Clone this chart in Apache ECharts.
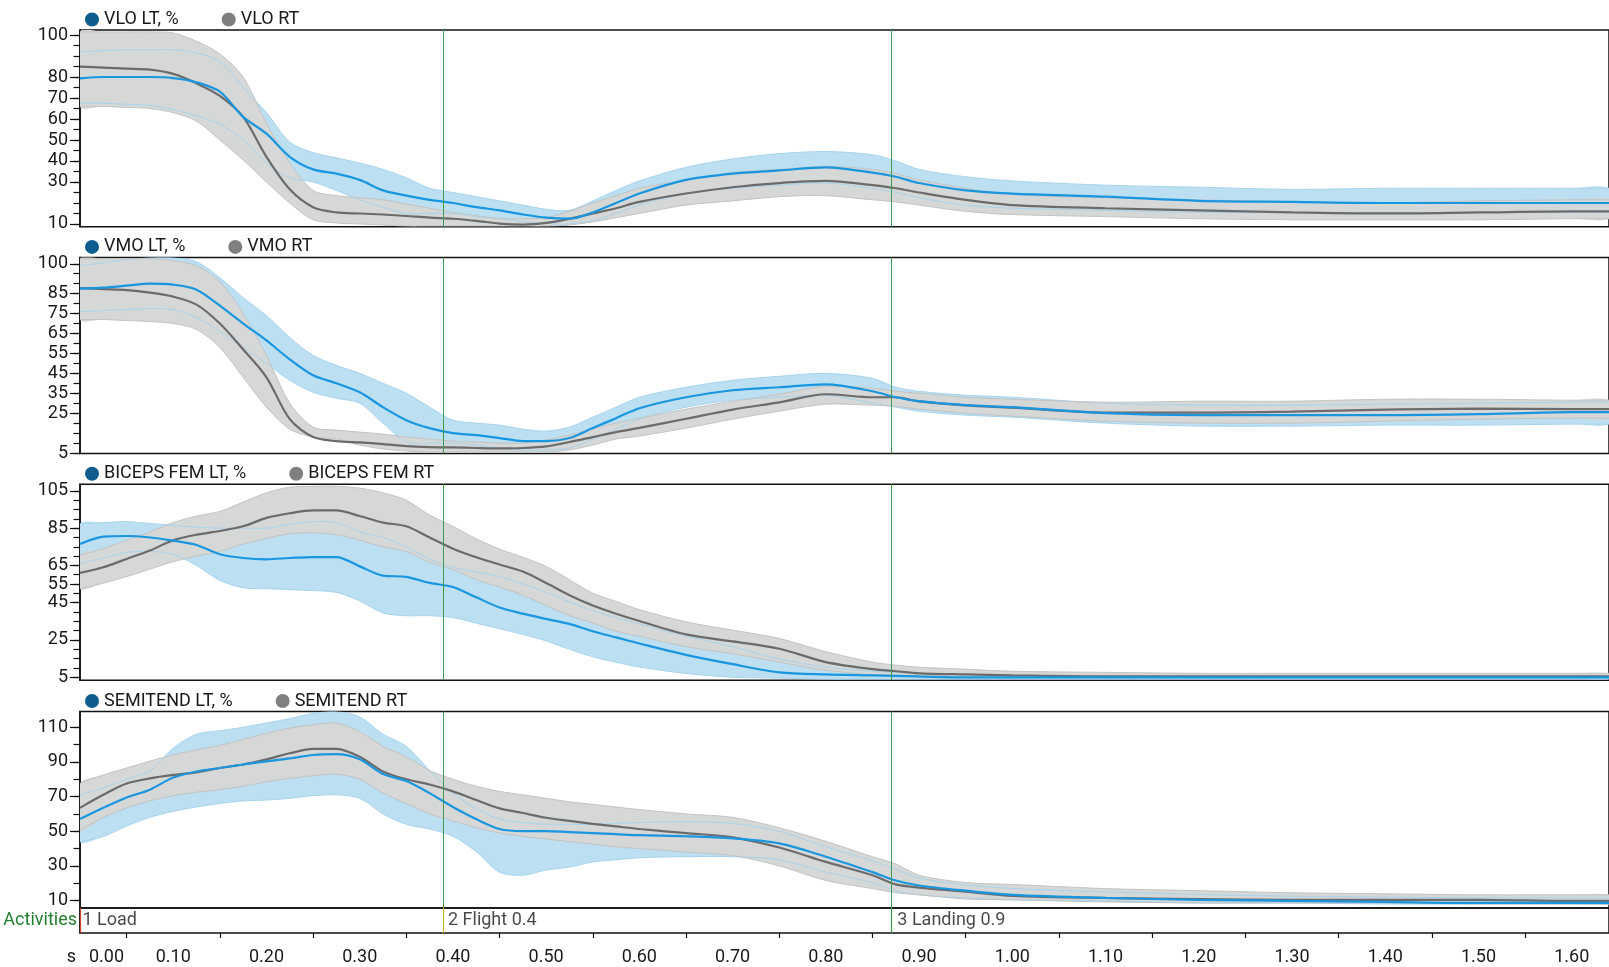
<!DOCTYPE html>
<html>
<head>
<meta charset="utf-8">
<script src="https://cdn.jsdelivr.net/npm/echarts@6/dist/echarts.min.js"></script>
<style>
  html, body { margin: 0; padding: 0; background: #fff; }
  #main { width: 1609px; height: 967px; }
</style>
</head>
<body>
<div id="main"></div>
<script>
// time base (s), shared by all four muscles
var timeS = [0, 0.025, 0.05, 0.075, 0.1, 0.125, 0.15, 0.175, 0.2, 0.225, 0.25, 0.275, 0.3, 0.325, 0.35, 0.375, 0.4, 0.425, 0.45, 0.475, 0.5, 0.525, 0.55, 0.575, 0.6, 0.65, 0.7, 0.75, 0.8, 0.85, 0.875, 0.9, 0.95, 1.0, 1.1, 1.2, 1.3, 1.4, 1.5, 1.6, 1.64];

// VLO
var vloLtMean = [79.4, 80, 80, 80, 79.5, 77.5, 73, 61, 53, 42, 36, 34, 31, 26, 23.5, 21.5, 20, 18, 16.5, 14.5, 13, 12.5, 15.5, 20, 24.5, 31, 34, 35.5, 37, 34.5, 32.5, 29.5, 26, 24.5, 23, 21, 20.5, 20, 20, 20, 20];
var vloLtHigh = [92, 92.5, 93, 93, 93, 91.5, 87.5, 75, 63, 49, 44, 41.5, 39, 36, 32, 27, 25, 23, 21, 19, 17, 16.5, 21, 26, 30.5, 37, 41, 43.5, 44.5, 43, 40, 36, 32.5, 30.5, 28.5, 27.5, 26.5, 27, 27, 27, 27];
var vloLtLow = [67.5, 67.5, 67, 66.5, 64.5, 61.5, 57.5, 50, 39, 32, 30, 26, 21.5, 18, 15, 15, 15, 13.5, 12.5, 11, 10.2, 10, 11.5, 15, 19, 24.5, 27, 28.5, 29.5, 27, 25, 22.5, 19, 17.5, 16.5, 15.5, 15.5, 15.5, 15.5, 15.5, 15.5];
var vloRtMean = [85, 84.5, 84, 83.5, 81.5, 77, 71, 61, 42, 26.5, 18, 15.5, 15, 14.5, 13.8, 13, 12.5, 11.5, 10.2, 9.7, 10.5, 12.5, 15, 17.5, 20.5, 24.5, 27.5, 29.5, 30.5, 28.5, 27, 25, 21.5, 19, 17.5, 16.5, 15.5, 15, 15.5, 16, 16];
var vloRtHigh = [101.5, 101.5, 101.5, 101.5, 101, 97, 91, 80, 58, 39, 26, 23.5, 22.5, 21.5, 19.5, 17.5, 15.5, 14, 12.6, 12.5, 13, 16, 20, 23.5, 27, 31, 34.5, 36, 37.5, 36, 34, 31, 27, 24, 22.5, 21.5, 20.5, 20, 21, 21.5, 21.5];
var vloRtLow = [66, 66, 65.5, 65, 63, 59, 50, 40.5, 30, 20, 12, 10.5, 10, 9.5, 9, 9, 9, 9, 9, 9, 9, 9.5, 11, 13, 15, 19, 21, 23, 23.5, 21.5, 20.5, 19, 16, 14.5, 13.5, 12.5, 12, 12, 12, 12.5, 12.5];

// VMO
var vmoLtMean = [87.5, 88, 89, 90, 89.5, 87, 79, 70, 61.5, 52, 44, 40, 35.5, 28, 21.5, 17.5, 15, 14, 12.5, 11, 11, 12.5, 17.5, 22.5, 27.5, 33, 36.5, 38, 39.5, 36, 33, 31, 29, 28, 25, 24, 24, 24, 24.5, 25.5, 25.5];
var vmoLtHigh = [99, 100.5, 102, 103, 103, 101, 93, 83, 74, 63, 54, 49, 45, 40, 35, 28, 21.5, 20, 19, 17, 16, 18, 23, 28, 33, 38, 41.5, 43.5, 45, 42.5, 38, 36, 34, 33, 30, 29, 29, 29.5, 30, 30.5, 30.5];
var vmoLtLow = [76, 76.5, 77, 77.5, 77, 73, 66, 58, 50, 41.5, 35.5, 32.5, 30, 20, 10.5, 10, 10, 9, 7.5, 6.5, 6.5, 7.5, 12, 17, 22, 28, 31.5, 33, 34, 30, 28, 26, 24, 23, 20, 18.5, 18.5, 19, 19, 19.5, 19.5];
var vmoRtMean = [87.8, 87.3, 86.8, 85.5, 83.5, 79.5, 70, 57, 43, 22, 13, 11, 10.3, 9.5, 8.5, 8, 7.8, 7.5, 7.3, 7.5, 8.3, 10.5, 13, 15.5, 17.6, 22.2, 26.8, 30.4, 34.5, 33, 33, 30.9, 28.9, 27.8, 25.3, 25.3, 25.8, 26.8, 27.3, 27, 27];
var vmoRtHigh = [102.5, 102.5, 102.5, 102.5, 101.5, 99, 91, 75, 54, 30, 18, 16.5, 15.5, 14.5, 13, 12, 11, 10.5, 10, 10, 11.5, 14, 17, 20, 22.5, 27, 31, 34.5, 38.5, 37.5, 36, 35, 33, 32, 30.5, 31, 31, 32, 32, 31.5, 31.5];
var vmoRtLow = [72, 72, 71.5, 71, 70, 67, 58, 43, 28, 17, 13, 12, 9, 7, 6, 5.5, 5.5, 5.5, 5.5, 5.5, 5.5, 6.5, 9, 12, 13.5, 17.5, 22, 26, 29.5, 29, 28.5, 27, 25, 23.5, 21, 20, 20, 21, 22, 22.5, 22.5];

// BICEPS FEM
var bicLtMean = [76.5, 80.5, 80.8, 80, 78.3, 76, 71, 69, 68.3, 69, 69.5, 69.5, 64.5, 59.5, 58.9, 55.6, 53.4, 47.9, 42.4, 39.1, 36.3, 33.6, 29.7, 26.4, 23.1, 17, 12, 7.6, 6.5, 6, 5.7, 5.4, 4.9, 4.9, 4.9, 4.9, 4.9, 4.9, 4.9, 4.9, 4.9];
var bicLtHigh = [87.3, 88, 88.5, 87.5, 86.5, 85.5, 85, 85, 85, 87, 88.5, 88, 83, 80, 75, 68.3, 64, 61.5, 59, 55, 50.6, 45.5, 40.7, 37, 33.6, 27, 21.4, 14.8, 10.4, 8.2, 7.6, 7.1, 6.5, 6, 5.7, 5.4, 5.4, 5.4, 5.4, 5.4, 5.4];
var bicLtLow = [66, 69, 72, 72.5, 71, 65, 57, 53, 52.5, 52, 51.5, 50.5, 46, 39.5, 38, 38, 37, 34, 31, 28, 24.5, 20, 16, 13, 10.5, 7, 5, 4.5, 4, 4, 4, 4, 4, 4, 4, 4, 4, 4, 4, 4, 4];
var bicRtMean = [61, 64, 68.5, 73, 78.5, 81.5, 83.5, 86, 90.5, 93, 94.5, 94.5, 91.5, 88, 86, 80, 74, 69.4, 65.5, 61.7, 55.6, 49, 43.5, 39.1, 35.2, 28, 24.2, 20.3, 13.1, 9.3, 8.2, 7.1, 6.5, 6, 5.4, 5.4, 5.4, 5.4, 5.4, 5.4, 5.4];
var bicRtHigh = [70.5, 74, 78.5, 83, 88, 91.5, 94, 99, 104, 107, 107.5, 107.5, 106.5, 104, 100, 92, 86, 79.3, 73.8, 69.4, 64.5, 57.3, 50.1, 45.7, 41.3, 34.7, 30.3, 25.8, 18.7, 13.1, 11.5, 10.4, 9.3, 8.2, 7.6, 7.1, 7.1, 7.1, 7.1, 7.1, 7.1];
var bicRtLow = [52.5, 55.5, 59, 63, 67, 70, 72.5, 76.5, 79.5, 82, 82.5, 81.5, 78.5, 75, 72.5, 66.6, 62.8, 57.3, 53.4, 49, 43.5, 38, 34.1, 29.7, 27, 21.4, 17.6, 13.1, 8.7, 6.5, 6, 5.4, 4.9, 4.9, 4.9, 4.9, 4.9, 4.9, 4.9, 4.9, 4.9];

// SEMITEND
var semLtMean = [57, 63.5, 69.5, 74, 81, 84.5, 86.5, 88.5, 90.3, 92, 94, 94.5, 91.5, 83, 79, 72, 64, 57, 51.3, 50.1, 50.1, 49.5, 48.9, 48.3, 47.7, 47.1, 45.9, 43, 35.3, 26.4, 21.6, 18.7, 15.7, 13.3, 11.5, 10.4, 9.8, 9.2, 8.6, 8.6, 8.6];
var semLtHigh = [71, 75, 80, 85, 98, 106, 108, 110, 112.5, 115, 118, 119, 116, 106, 99, 85, 72, 63, 57, 55, 54, 54, 54, 54.5, 55, 55.5, 54.5, 50, 41, 33, 28, 23, 19, 17, 15, 13.5, 12.5, 12, 11.5, 11.5, 11.5];
var semLtLow = [44, 47, 53, 58, 61.5, 64, 66, 67.5, 68, 69, 70.5, 71, 69, 60, 54, 51.3, 47.1, 38.2, 26.4, 24.6, 27.6, 29.3, 32.3, 33.5, 34.7, 35.3, 35.3, 33.5, 26.4, 20.4, 15.7, 13.3, 11.5, 10.4, 9.8, 8.6, 8.6, 8, 8, 8, 8];
var semRtMean = [63.5, 71, 77.5, 80.5, 82.5, 84, 86.5, 88.5, 91.5, 95, 97.5, 97.5, 93, 84.5, 80, 77, 73, 68, 63.2, 60.5, 57.8, 56, 54.3, 52.8, 51.3, 48.9, 46.5, 40.6, 32.3, 24.6, 19.3, 17.5, 15.1, 12.7, 11.5, 10.9, 10.4, 10.4, 10.4, 9.8, 9.8];
var semRtHigh = [77.5, 82.5, 86.5, 90.5, 94, 97, 99.5, 103, 106.5, 109.5, 111.5, 112.5, 107.5, 99, 93, 85, 80, 76, 73, 71, 69, 67, 65.5, 64, 62.5, 60, 58, 52, 44.2, 35.3, 31.1, 24.6, 20.4, 19.3, 16.9, 15.7, 14.5, 13.9, 13.3, 13.3, 13.3];
var semRtLow = [50.5, 58, 63.5, 67.5, 70.5, 72.5, 74, 76, 78.5, 80.5, 82, 83, 80, 72, 66, 60, 56, 52, 49, 47, 45.5, 44, 42.5, 41, 40, 38, 36, 30, 21.6, 16.9, 14.5, 13.3, 10.9, 10.4, 9.2, 8.6, 8.6, 8.6, 8, 8, 8];

// y tick labels and minor ticks
var vloLabels = [10, 30, 40, 50, 60, 70, 80, 100];
var vloTicks = [10, 15, 20, 25, 30, 35, 40, 45, 50, 55, 60, 65, 70, 75, 80, 85, 90, 95, 100];
var vmoLabels = [5, 25, 35, 45, 55, 65, 75, 85, 100];
var vmoTicks = [5, 10, 15, 20, 25, 30, 35, 40, 45, 50, 55, 60, 65, 70, 75, 80, 85, 90, 95, 100];
var bicLabels = [5, 25, 45, 55, 65, 85, 105];
var bicTicks = [5, 10, 15, 20, 25, 30, 35, 40, 45, 50, 55, 60, 65, 70, 75, 80, 85, 90, 95, 100, 105];
var semLabels = [10, 30, 50, 70, 90, 110];
var semTicks = [10, 20, 30, 40, 50, 60, 70, 80, 90, 100, 110];

// phases
var phaseLines = [0.3905, 0.8735];
var activityNames = ['1 Load', '2 Flight 0.4', '3 Landing 0.9'];
var activityStart = [0, 0.392, 0.874];
var activityColors = ['#d2432c', '#c9b227', '#3f9a52'];

var font = 'Roboto';
var ink = '#1a1a1a';
var fs = 18;

var panels = [
  { lt: 'VLO LT, %', rt: 'VLO RT', m: [vloLtMean, vloLtHigh, vloLtLow, vloRtMean, vloRtHigh, vloRtLow], top: 30, h: 196.7, min: 8.7, max: 102.4, labels: vloLabels, ticks: vloTicks },
  { lt: 'VMO LT, %', rt: 'VMO RT', m: [vmoLtMean, vmoLtHigh, vmoLtLow, vmoRtMean, vmoRtHigh, vmoRtLow], top: 257.4, h: 196, min: 4.8, max: 103.2, labels: vmoLabels, ticks: vmoTicks },
  { lt: 'BICEPS FEM LT, %', rt: 'BICEPS FEM RT', m: [bicLtMean, bicLtHigh, bicLtLow, bicRtMean, bicRtHigh, bicRtLow], top: 484.2, h: 196, min: 3.4, max: 108.6, labels: bicLabels, ticks: bicTicks },
  { lt: 'SEMITEND LT, %', rt: 'SEMITEND RT', m: [semLtMean, semLtHigh, semLtLow, semRtMean, semRtHigh, semRtLow], top: 711.5, h: 196.5, min: 5.7, max: 119.1, labels: semLabels, ticks: semTicks }
];

function pts(ys) {
  return timeS.map(function (t, i) { return [t, ys[i]]; });
}

// filled band between two curves, drawn through the axis scales
function bandFill(i, hi, lo, fill) {
  return {
    type: 'custom', xAxisIndex: i, yAxisIndex: i * 2, silent: true, animation: false, clip: true,
    data: [[0, 50]],
    renderItem: function (params, api) {
      var top = timeS.map(function (t, k) { return api.coord([t, hi[k]]); });
      var bot = timeS.map(function (t, k) { return api.coord([t, lo[k]]); });
      return {
        type: 'polygon',
        shape: { points: top.concat(bot.reverse()), smooth: 0.3 },
        style: { fill: fill, stroke: null }
      };
    }
  };
}
function bandEdges(i, hi, lo, color) {
  return {
    type: 'custom', xAxisIndex: i, yAxisIndex: i * 2, silent: true, animation: false, clip: true,
    data: [[0, 50]],
    renderItem: function (params, api) {
      var top = timeS.map(function (t, k) { return api.coord([t, hi[k]]); });
      var bot = timeS.map(function (t, k) { return api.coord([t, lo[k]]); });
      return {
        type: 'group',
        children: [
          { type: 'polyline', shape: { points: top, smooth: 0.3 }, style: { fill: null, stroke: color, lineWidth: 1 } },
          { type: 'polyline', shape: { points: bot, smooth: 0.3 }, style: { fill: null, stroke: color, lineWidth: 1 } }
        ]
      };
    }
  };
}

var grids = [], xAxes = [], yAxes = [], legends = [], series = [];

panels.forEach(function (p, i) {
  grids.push({ left: 80, right: -1, top: p.top, height: p.h, show: true, borderColor: '#111', borderWidth: 1.5 });
  xAxes.push({ gridIndex: i, type: 'value', min: 0, max: 1.64, axisLine: { show: false }, axisTick: { show: false }, axisLabel: { show: false }, splitLine: { show: false } });
  yAxes.push({
    gridIndex: i, type: 'value', position: 'left', min: p.min, max: p.max,
    axisLine: { show: true, lineStyle: { color: '#111', width: 1.5 } },
    axisTick: { show: true, length: 10, customValues: p.labels, lineStyle: { color: '#111', width: 1.2 } },
    axisLabel: { customValues: p.labels, fontSize: fs, color: ink, fontFamily: font, margin: 12 },
    splitLine: { show: false }
  });
  yAxes.push({
    gridIndex: i, type: 'value', position: 'left', min: p.min, max: p.max,
    axisLine: { show: false },
    axisTick: { show: true, length: 6.5, customValues: p.ticks, lineStyle: { color: '#111', width: 1.2 } },
    axisLabel: { show: false }, splitLine: { show: false }
  });
  legends.push({
    left: 85, top: p.top - 19.5, padding: 0, itemGap: 43, itemWidth: 14, itemHeight: 14, icon: 'circle',
    selectedMode: false,
    textStyle: { fontSize: fs, lineHeight: 18, color: ink, fontFamily: font },
    data: [{ name: p.lt, itemStyle: { color: '#0e5d8e' } }, { name: p.rt, itemStyle: { color: '#7f7f7f' } }]
  });

  var base = { type: 'line', xAxisIndex: i, yAxisIndex: i * 2, symbol: 'none', silent: true, smooth: 0.3, animation: false };

  series.push(bandFill(i, p.m[1], p.m[2], '#bcdff2'));
  series.push(bandFill(i, p.m[4], p.m[5], '#d6d7d7'));
  series.push(bandEdges(i, p.m[1], p.m[2], '#a7d3ee'));
  series.push(bandEdges(i, p.m[4], p.m[5], '#c2c3c3'));
  series.push(Object.assign({}, base, { name: p.rt, data: pts(p.m[3]), itemStyle: { color: '#7f7f7f' }, lineStyle: { color: '#6b6b6b', width: 2.2 } }));
  series.push(Object.assign({}, base, {
    name: p.lt, data: pts(p.m[0]), itemStyle: { color: '#0e5d8e' }, lineStyle: { color: '#1896df', width: 2.2 },
    markLine: {
      silent: true, symbol: 'none', animation: false, label: { show: false },
      lineStyle: { color: '#3f9a52', width: 1, type: 'solid' },
      data: phaseLines.map(function (x) { return { xAxis: x }; })
    }
  }));
});

// activities row with time axis
grids.push({ left: 80, right: -1, top: 908, height: 25, show: true, borderColor: '#111', borderWidth: 1.5 });
xAxes.push({
  gridIndex: 4, type: 'value', min: 0, max: 1.64, interval: 0.1,
  axisLine: { lineStyle: { color: '#111', width: 1.5 } },
  axisTick: { length: 7, lineStyle: { color: '#111', width: 1.2 } },
  minorTick: { show: true, splitNumber: 2, length: 5, lineStyle: { color: '#111', width: 1.2 } },
  splitLine: { show: false },
  axisLabel: {
    fontSize: fs, color: ink, fontFamily: font, margin: 15, showMaxLabel: false, alignMinLabel: 'left',
    formatter: function (v) { return v === 0 ? '  0.00' : v.toFixed(2); }
  },
  name: 's', nameLocation: 'start', nameGap: 4,
  nameTextStyle: { fontSize: fs, color: ink, fontFamily: font, verticalAlign: 'top', padding: [15, 0, 0, 0] }
});
yAxes.push({
  gridIndex: 4, type: 'category', data: ['Activities'],
  axisLine: { show: true, lineStyle: { color: '#111', width: 1.5 } },
  axisTick: { show: false },
  axisLabel: { fontSize: fs, color: '#23802f', fontFamily: font, margin: 3 }
});
series.push({
  type: 'scatter', xAxisIndex: 4, yAxisIndex: 8, symbolSize: 1, silent: true, animation: false,
  itemStyle: { color: 'rgba(0,0,0,0)' },
  label: { show: true, position: 'right', distance: 2, fontSize: fs, color: ink, fontFamily: font,
    formatter: function (d) { return activityNames[d.dataIndex]; } },
  data: activityStart.map(function (x) { return [x, 'Activities']; }),
  markLine: {
    silent: true, symbol: 'none', animation: false, label: { show: false },
    data: activityStart.map(function (x, i) { return { xAxis: x, lineStyle: { color: activityColors[i], width: 1.2, type: 'solid' } }; })
  }
});

var chart = echarts.init(document.getElementById('main'));
chart.setOption({
  animation: false,
  backgroundColor: '#fff',
  textStyle: { fontFamily: font },
  grid: grids,
  xAxis: xAxes,
  yAxis: yAxes,
  legend: legends,
  series: series
});
</script>
</body>
</html>
